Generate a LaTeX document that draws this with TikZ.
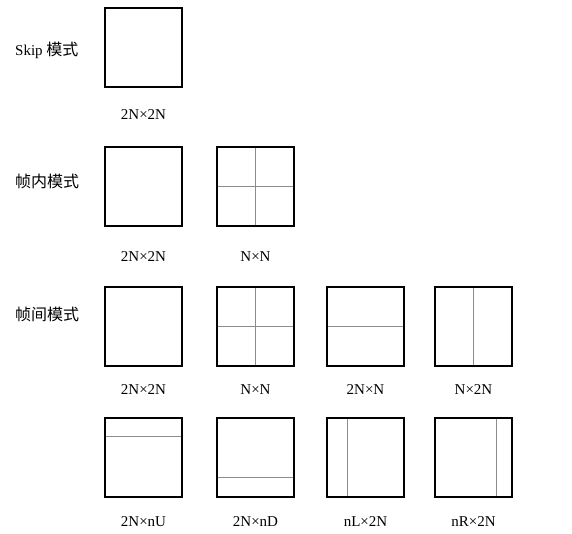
\documentclass[tikz,border=0pt]{standalone}
\usepackage{fontspec}
\setmainfont{Liberation Serif}
\newfontfamily\cjk{Noto Sans CJK SC}
\usetikzlibrary{calc}
\usetikzlibrary{positioning}

\begin{document}
\begin{tikzpicture}[x=1pt, y=-1pt,
    font=\fontsize{15}{18}\selectfont,
    cu/.style={draw=black, line width=1.4pt,
               minimum width=77pt, minimum height=79pt,
               inner sep=0pt, outer sep=0pt},
    split/.style={draw=black!45, line width=1pt},
    size/.style={inner sep=0pt},
    mode/.style={anchor=west, inner sep=0pt}]
            \useasboundingbox (0,0) rectangle (572,533);

            % mode names
            \node (skip) [mode] at(15,50)
              {Skip {\cjk\fontsize{16}{18}\selectfont 模式}};
            \node (intra) [mode] at(15,181)
              {\cjk\fontsize{16}{18}\selectfont 帧内模式};
            \node (inter) [mode] at(15,314)
              {\cjk\fontsize{16}{18}\selectfont 帧间模式};

            % skip
            \node (sk) [cu] at(143.5,47.5) {};
            \node [size] at(143.5,115) {2N×2N};

            % intra
            \node (ia) [cu] at(143.5,186.5) {};
            \node (ib) [cu] at(255.5,186.5) {};
            \node [size] at(143.5,257) {2N×2N};
            \node [size] at(255.5,257) {N×N};

            % inter, symmetric
            \node (pa) [cu] at(143.5,326.5) {};
            \node (pb) [cu] at(255.5,326.5) {};
            \node (pc) [cu] at(365.5,326.5) {};
            \node (pd) [cu] at(473.5,326.5) {};
            \node [size] at(143.5,390) {2N×2N};
            \node [size] at(255.5,390) {N×N};
            \node [size] at(365.5,390) {2N×N};
            \node [size] at(473.5,390) {N×2N};

            % inter, asymmetric
            \node (qa) [cu] at(143.5,457.5) {};
            \node (qb) [cu] at(255.5,457.5) {};
            \node (qc) [cu] at(365.5,457.5) {};
            \node (qd) [cu] at(473.5,457.5) {};
            \node [size] at(143.5,522) {2N×nU};
            \node [size] at(255.5,522) {2N×nD};
            \node [size] at(365.5,522) {nL×2N};
            \node [size] at(473.5,522) {nR×2N};

            % splits
            \path [split]
              (ib.north) edge (ib.south)
              (ib.west) edge (ib.east)
              (pb.north) edge (pb.south)
              (pb.west) edge (pb.east)
              (pc.west) edge (pc.east)
              (pd.north) edge (pd.south)
              ($(qa.north west)!0.23!(qa.south west)$) edge ($(qa.north east)!0.23!(qa.south east)$)
              ($(qb.north west)!0.75!(qb.south west)$) edge ($(qb.north east)!0.75!(qb.south east)$)
              ($(qc.north west)!0.27!(qc.north east)$) edge ($(qc.south west)!0.27!(qc.south east)$)
              ($(qd.north west)!0.8!(qd.north east)$) edge ($(qd.south west)!0.8!(qd.south east)$)
              ;
            % redraw outlines over the splits
            \foreach \b in {ib,pb,pc,pd,qa,qb,qc,qd}
              \draw [line width=1.4pt] (\b.north west) rectangle (\b.south east);
\end{tikzpicture}
\end{document}
